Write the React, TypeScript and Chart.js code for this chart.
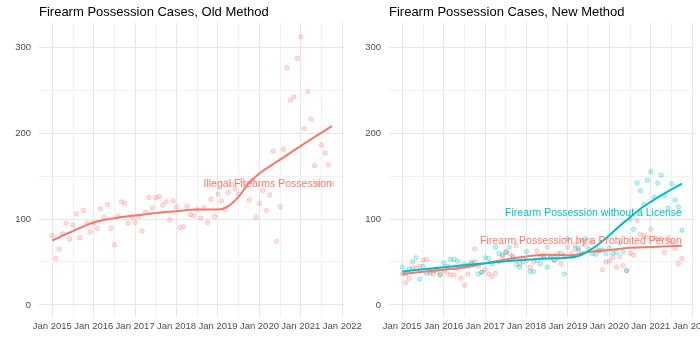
import React, { useEffect, useRef } from 'react';
import { Chart, registerables } from 'chart.js';

Chart.register(...registerables);

// ---- axis ticks ----
const xTickMonths = [0, 6, 12, 18, 24, 30, 36, 42, 48, 54, 60, 66, 72, 78, 84];
const xTickLabels = ['Jan 2015', '', 'Jan 2016', '', 'Jan 2017', '', 'Jan 2018', '', 'Jan 2019', '', 'Jan 2020', '', 'Jan 2021', '', 'Jan 2022'];
const yTickValues = [0, 50, 100, 150, 200, 250, 300];
const yTickLabels = ['0', '', '100', '', '200', '', '300'];

// ---- monthly case counts, Jan 2015 .. Oct 2021 (month index 0..81) ----
const oldMethodCases = [
  81, 54, 65, 83, 95, 77, 93, 106, 78, 110, 95, 85,
  95, 89, 112, 102, 117, 89, 70, 103, 120, 118, 95, 102,
  96, 103, 86, 108, 125, 113, 125, 126, 116, 120, 99, 121,
  114, 90, 91, 115, 105, 104, 111, 101, 113, 96, 123, 103,
  129, 121, 111, 131, 140, 135, 129, 145, 138, 122, 145, 102,
  118, 133, 110, 128, 179, 74, 114, 181, 276, 238, 242, 287,
  312, 205, 248, 216, 162, 141, 186, 177, 163, 141,
];

const withoutLicenseCases = [
  44, 36, 42, 50, 55, 30, 45, 37, 37, 40, 42, 35,
  49, 45, 53, 53, 51, 45, 47, 46, 48, 50, 36, 38,
  55, 54, 48, 67, 60, 58, 61, 67, 55, 47, 44, 50,
  62, 39, 39, 52, 48, 55, 44, 56, 52, 55, 60, 36,
  77, 56, 65, 66, 60, 77, 65, 60, 59, 63, 64, 60,
  66, 60, 61, 72, 62, 40, 100, 88, 142, 133, 117, 145,
  155, 125, 142, 151, 127, 113, 141, 122, 114, 87,
];

const prohibitedPersonCases = [
  36, 26, 31, 43, 43, 45, 52, 53, 40, 36, 39, 35,
  40, 37, 35, 35, 42, 31, 23, 36, 50, 65, 45, 38,
  41, 36, 33, 37, 50, 56, 62, 60, 57, 69, 48, 54,
  52, 44, 50, 63, 55, 58, 67, 55, 52, 60, 48, 58,
  67, 60, 70, 64, 75, 70, 75, 72, 66, 63, 41, 50,
  51, 55, 44, 56, 46, 40, 60, 58, 98, 82, 81, 79,
  88, 78, 77, 77, 61, 78, 74, 66, 48, 54,
];

// ---- smoothed trends (month index, value) ----
const oldTrendMonths = [0, 6, 12, 18, 24, 30, 36, 42, 48, 51, 54, 57, 60, 66, 72, 81];
const oldTrendValues = [75, 86, 96, 101, 104, 107, 109, 111, 111, 115, 126, 142, 153, 169, 185, 208];

const licenseTrendMonths = [0, 12, 24, 36, 42, 48, 51, 54, 57, 60, 63, 66, 69, 72, 75, 78, 81];
const licenseTrendValues = [39, 44, 48.5, 52.5, 54, 55, 57, 63, 71, 81, 92, 102, 112, 120, 127.5, 134.5, 141];

const prohibitedTrendMonths = [0, 6, 12, 18, 24, 30, 36, 42, 48, 54, 60, 66, 72, 81];
const prohibitedTrendValues = [36, 38.5, 41, 43.5, 48.5, 53, 56.5, 58.5, 57.5, 61.5, 64, 66.5, 67.5, 69];

// ---- labels ----
const oldTitle = 'Firearm Possession Cases, Old Method';
const newTitle = 'Firearm Possession Cases, New Method';
const oldLabelText = ['Illegal Firearms Possession'];
const oldLabelValue = [140.7];
const newLabelText = ['Firearm Possession without a License', 'Firearm Possession by a Prohibited Person'];
const newLabelValue = [107, 74];
const labelMonth = 81;

const RED = '#F8766D';
const TEAL = '#00BFC4';
const FONT = '"Liberation Sans", Arial, Helvetica, sans-serif';

const toPoints = (vals: number[]) => vals.map((v, i) => ({ x: i, y: v }));
const toTrend = (ms: number[], vs: number[]) => ms.map((m, i) => ({ x: m, y: vs[i] }));

function pointDataset(vals: number[], color: string, rgb: string) {
  return {
    data: toPoints(vals),
    showLine: false,
    pointRadius: 2.2,
    pointBackgroundColor: `rgba(${rgb},0.22)`,
    pointBorderColor: `rgba(${rgb},0.32)`,
    pointBorderWidth: 1,
  };
}

function lineDataset(ms: number[], vs: number[], color: string) {
  return {
    data: toTrend(ms, vs),
    showLine: true,
    borderColor: color,
    borderWidth: 2,
    pointRadius: 0,
    tension: 0.4,
    cubicInterpolationMode: 'monotone',
  };
}

function makeTextPlugin(title: string, texts: string[], values: number[], colors: string[]) {
  return {
    id: 'panelText',
    afterDatasetsDraw(chart: any) {
      const { ctx, chartArea, scales } = chart;
      ctx.save();
      ctx.font = `13px ${FONT}`;
      ctx.fillStyle = '#000000';
      ctx.textAlign = 'left';
      ctx.textBaseline = 'alphabetic';
      ctx.fillText(title, chartArea.left, 16);
      ctx.font = `10.5px ${FONT}`;
      ctx.textAlign = 'right';
      ctx.textBaseline = 'middle';
      texts.forEach((t, i) => {
        ctx.fillStyle = colors[i];
        ctx.fillText(t, scales.x.getPixelForValue(labelMonth), scales.y.getPixelForValue(values[i]));
      });
      ctx.restore();
    },
  };
}

function makeOptions(rightPad: number) {
  const gridColor = (c: any) => (c.index % 2 === 0 ? '#e6e6e6' : '#f1f1f1');
  return {
    animation: false,
    responsive: false,
    layout: { padding: { left: 0, right: rightPad, top: 23, bottom: 0 } },
    plugins: { legend: { display: false }, tooltip: { enabled: false }, title: { display: false } },
    scales: {
      x: {
        type: 'linear',
        min: -3.85,
        max: 84.5,
        afterBuildTicks: (s: any) => { s.ticks = xTickMonths.map((v) => ({ value: v })); },
        afterFit: (s: any) => { s.height = 33; s.paddingLeft = 0; s.paddingRight = 0; },
        ticks: {
          autoSkip: false,
          maxRotation: 0,
          minRotation: 0,
          padding: 4,
          color: '#4d4d4d',
          font: { family: FONT, size: 9.5 },
          callback: (_v: any, i: number) => xTickLabels[i],
        },
        grid: { color: gridColor, lineWidth: 1, drawTicks: false },
        border: { display: false },
      },
      y: {
        type: 'linear',
        min: -14,
        max: 328,
        afterBuildTicks: (s: any) => { s.ticks = yTickValues.map((v) => ({ value: v })); },
        afterFit: (s: any) => { s.width = 39; s.paddingTop = 0; s.paddingBottom = 0; },
        ticks: {
          padding: 8,
          color: '#4d4d4d',
          font: { family: FONT, size: 9.5 },
          callback: (_v: any, i: number) => yTickLabels[i],
        },
        grid: { color: gridColor, lineWidth: 1, drawTicks: false },
        border: { display: false },
      },
    },
  };
}

export default function App() {
  const leftRef = useRef<HTMLCanvasElement>(null);
  const rightRef = useRef<HTMLCanvasElement>(null);

  useEffect(() => {
    const left = new Chart(leftRef.current as HTMLCanvasElement, {
      type: 'scatter',
      data: {
        datasets: [
          lineDataset(oldTrendMonths, oldTrendValues, RED),
          pointDataset(oldMethodCases, RED, '248,118,109'),
        ] as any,
      },
      options: makeOptions(26) as any,
      plugins: [makeTextPlugin(oldTitle, oldLabelText, oldLabelValue, [RED])],
    });
    const right = new Chart(rightRef.current as HTMLCanvasElement, {
      type: 'scatter',
      data: {
        datasets: [
          lineDataset(licenseTrendMonths, licenseTrendValues, TEAL),
          lineDataset(prohibitedTrendMonths, prohibitedTrendValues, RED),
          pointDataset(withoutLicenseCases, TEAL, '0,191,196'),
          pointDataset(prohibitedPersonCases, RED, '248,118,109'),
        ] as any,
      },
      options: makeOptions(6) as any,
      plugins: [makeTextPlugin(newTitle, newLabelText, newLabelValue, [TEAL, RED])],
    });
    return () => {
      left.destroy();
      right.destroy();
    };
  }, []);

  return (
    <div style={{ position: 'absolute', left: 0, top: 0, width: 700, height: 350, background: '#ffffff', overflow: 'hidden' }}>
      <canvas ref={rightRef} width={350} height={350} style={{ position: 'absolute', left: 350, top: 0, width: 350, height: 350 }} />
      <canvas ref={leftRef} width={370} height={350} style={{ position: 'absolute', left: 0, top: 0, width: 370, height: 350 }} />
    </div>
  );
}
